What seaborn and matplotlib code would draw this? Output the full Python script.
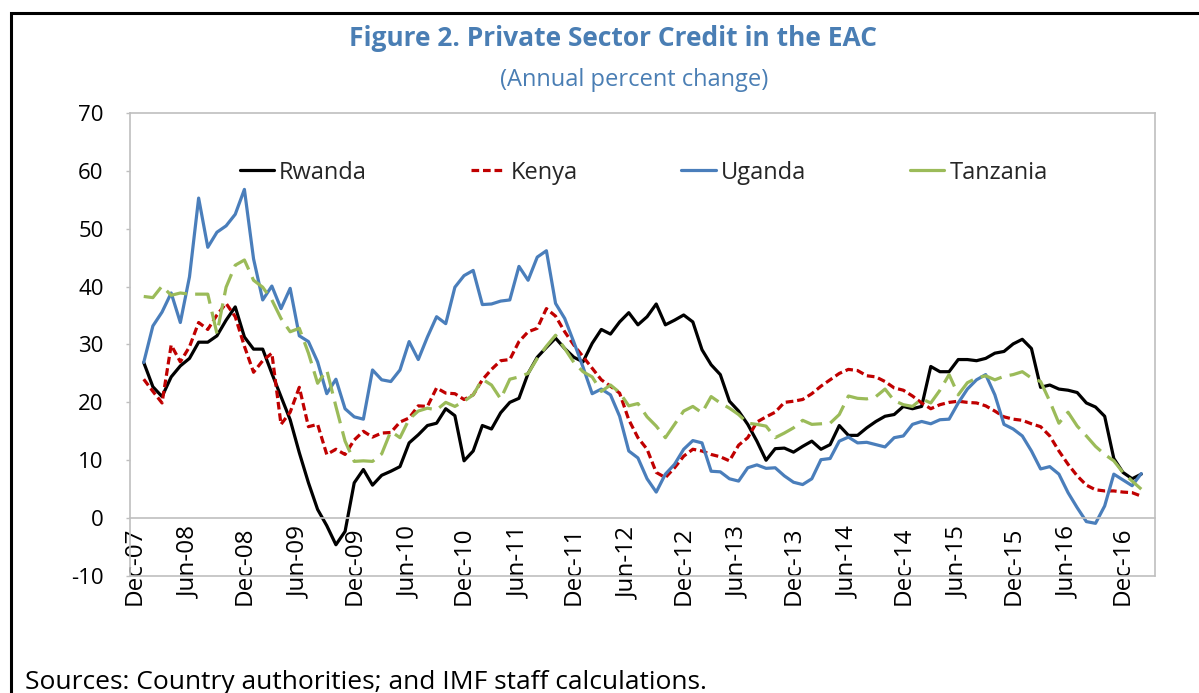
import matplotlib
matplotlib.use('Agg')
import matplotlib.pyplot as plt
import seaborn as sns
import pandas as pd
from matplotlib.patches import Rectangle

sns.set_style('white')
plt.rcParams['font.family'] = ['Open Sans', 'DejaVu Sans']
plt.rcParams['axes.unicode_minus'] = False

# month index: 0 = Dec-07, data runs Jan-08 .. Feb-17
months = list(range(1, 111))
tick_pos = list(range(0, 109, 6))
tick_labels = ['Dec-07', 'Jun-08', 'Dec-08', 'Jun-09', 'Dec-09', 'Jun-10', 'Dec-10',
               'Jun-11', 'Dec-11', 'Jun-12', 'Dec-12', 'Jun-13', 'Dec-13', 'Jun-14',
               'Dec-14', 'Jun-15', 'Dec-15', 'Jun-16', 'Dec-16']

rwanda = [26.9, 22.7, 21.0, 24.4, 26.3, 27.6, 30.4, 30.4, 31.5, 34.2, 36.5, 31.3, 29.2, 29.2,
          25.0, 21.0, 17.0, 11.3, 6.1, 1.5, -1.3, -4.6, -2.3, 6.1, 8.4, 5.7, 7.4,
          8.1, 8.9, 13.0, 14.4, 16.0, 16.4, 18.9, 17.7, 9.9, 11.6, 16.0, 15.4, 18.2, 20.0,
          20.7, 25.0, 27.8, 29.5, 31.1, 29.3, 27.8, 27.0, 30.2, 32.6, 31.8, 33.9, 35.5, 33.4, 34.8,
          37.0, 33.4, 34.2, 35.1, 33.9, 29.1, 26.5, 24.8, 20.2, 18.5, 16.2, 13.3, 10.0, 12.0,
          12.1, 11.4, 12.4, 13.3, 11.9, 12.7, 16.0, 14.3, 14.3, 15.6, 16.7, 17.6, 17.9, 19.3,
          18.9, 19.3, 26.2, 25.3, 25.3, 27.4, 27.4, 27.2, 27.6, 28.5, 28.8, 30.1, 30.9, 29.3,
          22.6, 23.0, 22.3, 22.1, 21.7, 19.9, 19.2, 17.6, 10.3, 7.9, 6.8, 7.6]
kenya = [24.0, 21.9, 19.9, 29.9, 27.0, 29.6, 33.8, 32.6, 35.1, 37.1, 34.8, 29.7, 25.2, 27.2,
         28.5, 16.2, 18.3, 22.6, 15.8, 16.2, 11.0, 11.9, 11.0, 13.5, 15.0, 14.0, 14.7,
         14.8, 16.6, 17.3, 19.4, 19.3, 22.5, 21.6, 21.5, 20.5, 21.3, 23.9, 25.7, 27.2, 27.4,
         30.5, 32.2, 32.8, 36.2, 34.9, 32.2, 29.9, 27.9, 25.9, 23.9, 22.8, 21.6, 17.0, 13.9, 11.9,
         7.9, 7.0, 8.7, 10.7, 11.9, 11.6, 11.0, 10.6, 9.9, 12.6, 13.9, 16.6, 17.5, 18.3,
         20.0, 20.2, 20.5, 21.5, 22.8, 23.9, 25.0, 25.7, 25.5, 24.6, 24.4, 23.6, 22.5, 22.1,
         21.1, 19.9, 18.9, 19.6, 20.0, 20.2, 20.0, 19.9, 19.4, 18.5, 17.5, 17.1, 16.9, 16.3,
         15.8, 14.2, 11.6, 9.3, 7.3, 5.7, 4.9, 4.7, 4.7, 4.5, 4.4, 3.8]
uganda = [26.9, 33.2, 35.6, 38.9, 33.8, 41.7, 55.3, 46.8, 49.4, 50.5, 52.5, 56.8, 44.8, 37.7,
          40.1, 36.2, 39.7, 31.5, 30.5, 27.0, 21.5, 24.0, 18.9, 17.5, 17.1, 25.6, 23.9,
          23.6, 25.6, 30.5, 27.4, 31.3, 34.8, 33.6, 39.9, 41.9, 42.8, 36.9, 37.0, 37.5, 37.7,
          43.5, 41.1, 45.1, 46.2, 37.1, 34.5, 30.4, 26.1, 21.5, 22.3, 21.3, 17.6, 11.6, 10.4, 6.8,
          4.5, 7.6, 9.3, 11.9, 13.4, 13.0, 8.1, 8.0, 6.8, 6.4, 8.7, 9.2, 8.6, 8.7,
          7.3, 6.2, 5.8, 6.8, 10.1, 10.3, 13.3, 14.0, 13.0, 13.1, 12.7, 12.3, 13.9, 14.2,
          16.2, 16.7, 16.3, 17.0, 17.1, 19.9, 22.3, 23.9, 24.8, 21.3, 16.2, 15.4, 14.2, 11.6,
          8.5, 8.9, 7.6, 4.4, 1.8, -0.6, -0.9, 2.1, 7.6, 6.6, 5.6, 7.7]
tanzania = [38.3, 38.1, 40.1, 38.5, 38.9, 38.7, 38.7, 38.7, 31.9, 39.9, 43.7, 44.6, 41.1, 39.9,
            37.7, 34.5, 32.2, 32.8, 28.5, 23.3, 25.6, 19.3, 13.3, 9.8, 9.9, 9.8, 11.1,
            15.0, 13.9, 17.1, 18.5, 19.0, 18.7, 20.0, 19.3, 20.2, 21.3, 24.0, 23.0, 20.6, 24.0,
            24.4, 25.0, 27.6, 29.7, 31.6, 29.3, 26.9, 25.3, 24.4, 21.9, 23.0, 21.7, 19.4, 19.8, 17.5,
            15.9, 13.9, 16.2, 18.5, 19.3, 18.2, 21.0, 19.9, 19.0, 17.9, 16.4, 16.2, 15.9, 13.9,
            14.7, 15.6, 16.9, 16.2, 16.3, 16.4, 17.9, 21.1, 20.7, 20.6, 21.0, 22.3, 20.3, 19.6,
            19.3, 20.6, 19.9, 22.1, 24.8, 21.3, 23.4, 24.2, 24.6, 23.9, 24.5, 24.8, 25.3, 24.2,
            23.6, 20.2, 16.4, 18.3, 15.9, 14.2, 12.4, 11.0, 9.9, 7.9, 6.4, 5.0]

countries = ['Rwanda', 'Kenya', 'Uganda', 'Tanzania']
series = [rwanda, kenya, uganda, tanzania]
df = pd.concat([pd.DataFrame({'month': months, 'value': v, 'country': c})
                for c, v in zip(countries, series)])

colors = {'Rwanda': '#000000', 'Kenya': '#C00000', 'Uganda': '#4A7EBB', 'Tanzania': '#9BBB59'}
dashes = {'Rwanda': '', 'Kenya': (2.4, 1.2), 'Uganda': '', 'Tanzania': (7, 2.6)}

fig = plt.figure(figsize=(11.99, 6.93), dpi=100)
ax = fig.add_axes([130 / 1199, 1 - 576 / 693, 1025 / 1199, 463 / 693])

sns.lineplot(data=df, x='month', y='value', hue='country', style='country',
             hue_order=countries, style_order=countries, palette=colors, dashes=dashes,
             linewidth=2.3, legend=False, ax=ax)
handles = list(ax.get_lines()[:4])

grey = '#BFBFBF'
ax.set_xlim(-0.5, 111.5)
ax.set_ylim(-10, 70)
ax.set_yticks(range(-10, 71, 10))
ax.set_xticks(tick_pos)
ax.set_xticklabels(tick_labels)
ax.set_xticks([p - 0.5 for p in tick_pos[1:]], minor=True)
ax.set_xlabel('')
ax.set_ylabel('')

for s in ax.spines.values():
    s.set_color(grey)
    s.set_linewidth(1.2)
ax.spines['bottom'].set_position(('data', 0))
ax.plot([0, 1], [0, 0], transform=ax.transAxes, color=grey, lw=1.2, clip_on=False)

ax.tick_params(axis='x', which='major', length=0, pad=6, labelsize=17.5, labelcolor='black',
               labelrotation=90)
ax.tick_params(axis='x', which='minor', direction='in', length=5, width=1, color=grey)
ax.tick_params(axis='y', direction='out', length=3, width=1, color=grey, pad=16,
               labelsize=16, labelcolor='black', left=True)

leg = ax.legend(handles, countries, loc='center left', bbox_to_anchor=(0.107, 0.871),
                ncol=4, frameon=False, fontsize=17, handlelength=1.45, handletextpad=0.22,
                columnspacing=4.4, borderpad=0, borderaxespad=0)
leg.get_lines()[3].set_linestyle('-')

fig.text(613 / 1199, 1 - 38 / 693, 'Figure 2. Private Sector Credit in the EAC',
         ha='center', va='center', fontsize=19, fontweight='bold', color='#4A7EB4')
fig.text(634 / 1199, 1 - 80 / 693, '(Annual percent change)',
         ha='center', va='center', fontsize=17, color='#4A7EB4')
fig.text(25 / 1199, 4 / 693, 'Sources: Country authorities; and IMF staff calculations.',
         ha='left', va='baseline', fontsize=19, color='black')

fig.patches.append(Rectangle((11 / 1199, -0.2), 1.5, 1.2 - 13 / 693, transform=fig.transFigure,
                             fill=False, edgecolor='black', linewidth=2.2))

fig.savefig('out.png', dpi=100)
